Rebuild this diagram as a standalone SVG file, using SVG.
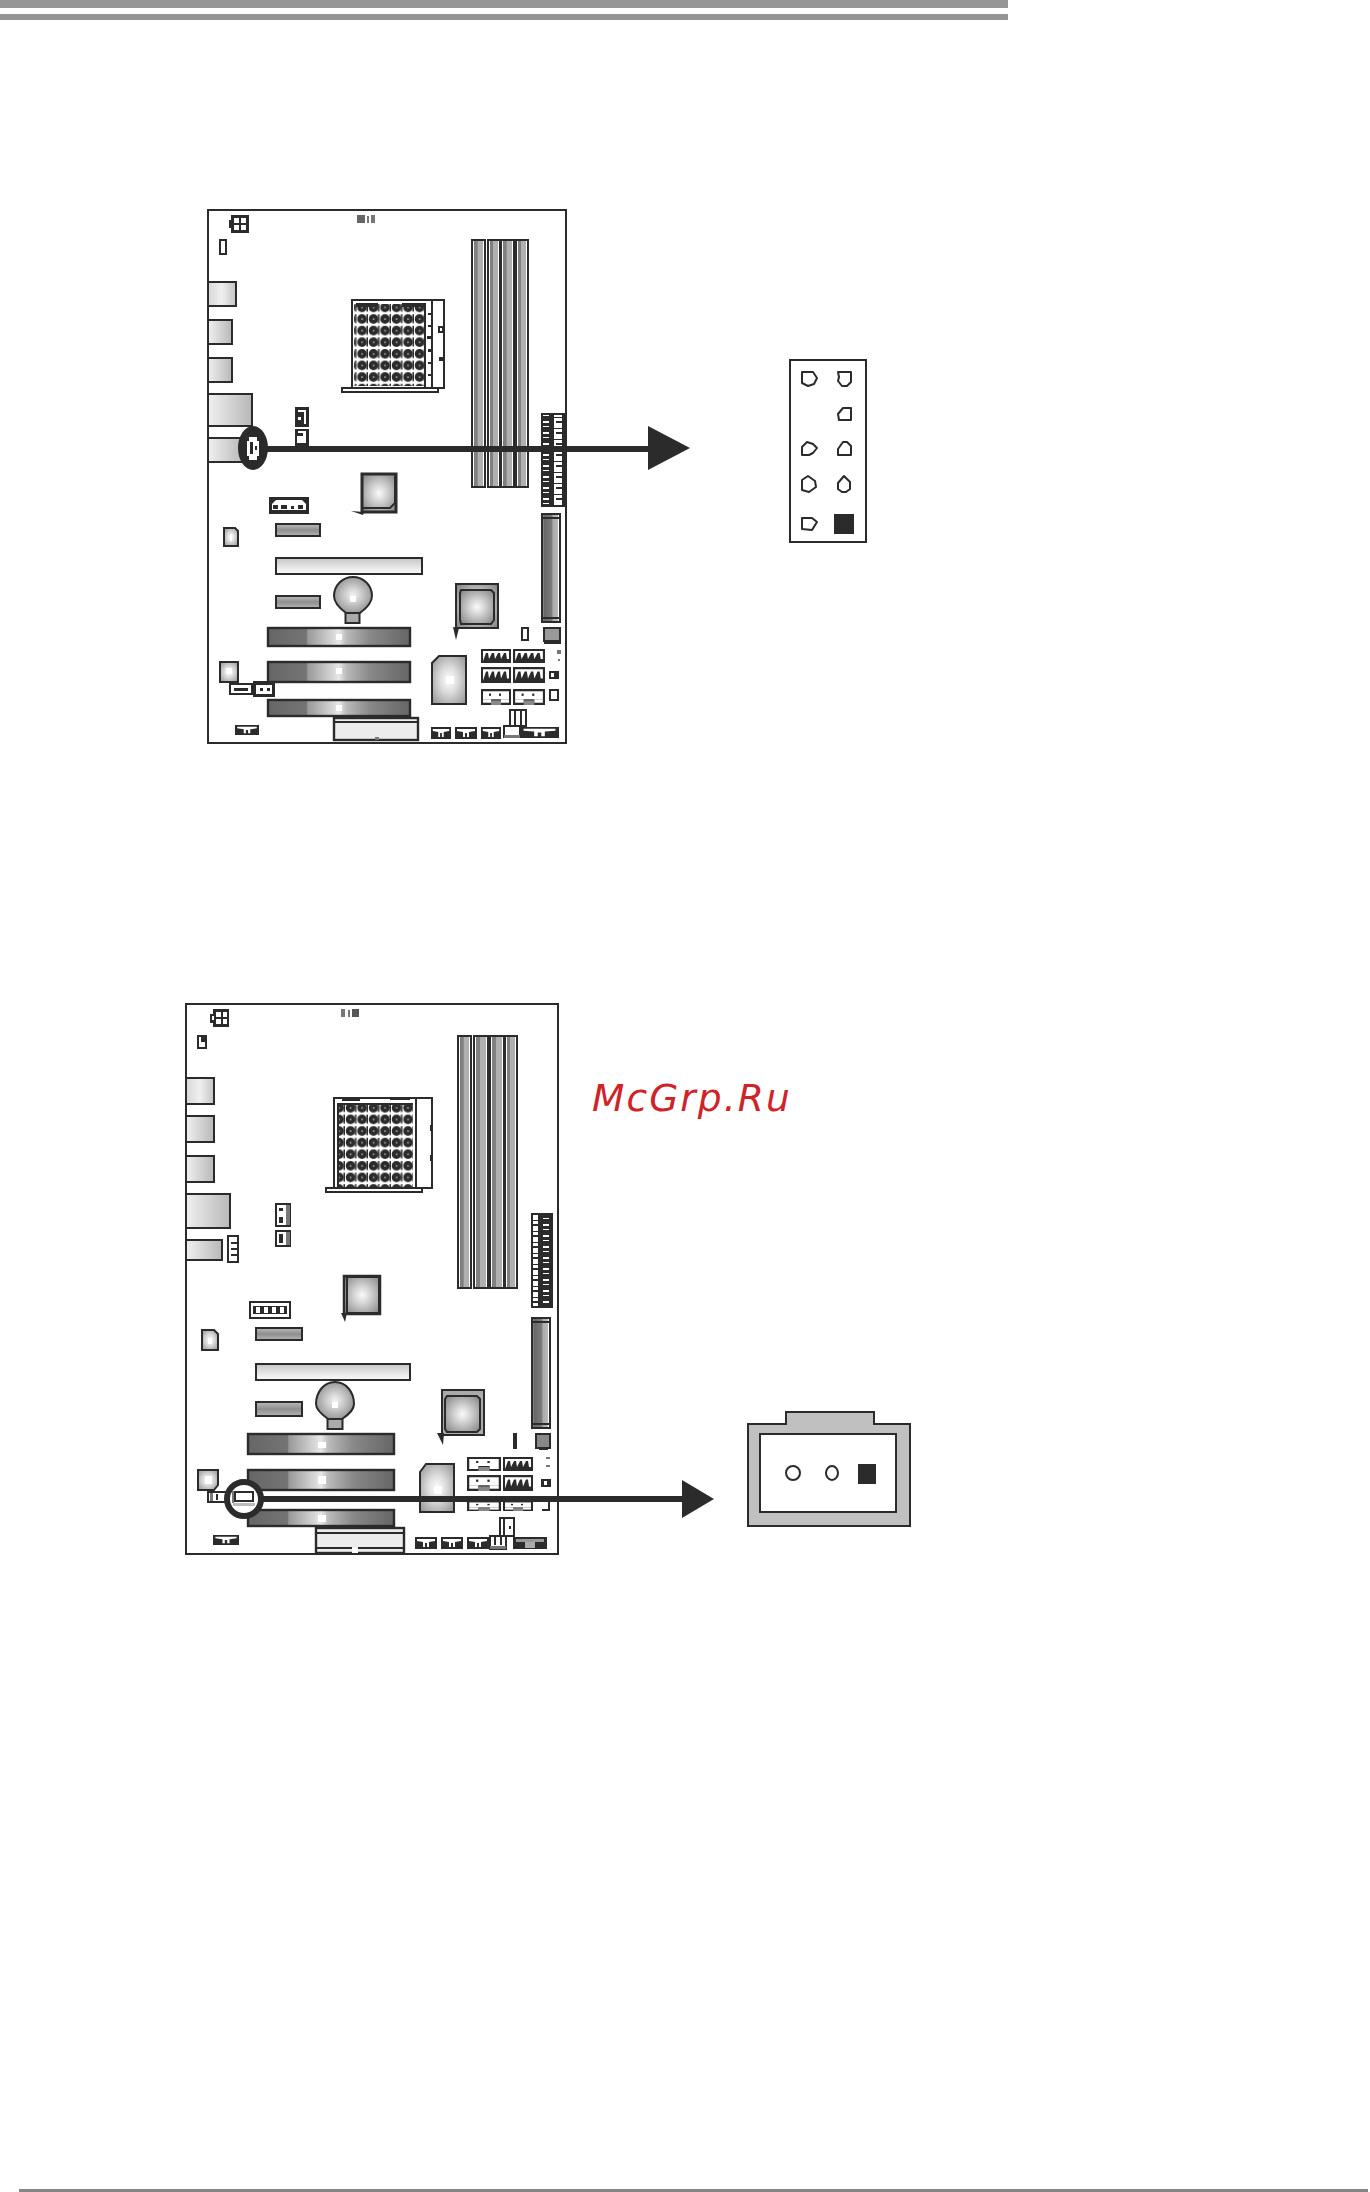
<svg xmlns="http://www.w3.org/2000/svg" width="1370" height="2192" viewBox="0 0 1370 2192">
<style>
.s{stroke:#2b2b2b;stroke-width:2;fill:#fff}
.k{stroke:#2b2b2b;stroke-width:2;fill:none}
.d{fill:#2b2b2b}
.w{fill:#fff}
.g{fill:#777}
.port{stroke:#2b2b2b;stroke-width:2;fill:url(#gPort)}
.port2{stroke:#2b2b2b;stroke-width:2;fill:url(#gPort2)}
.ram{stroke:#2b2b2b;stroke-width:2;fill:url(#gRam)}
.pcie{stroke:#2b2b2b;stroke-width:2.4;fill:url(#gPcie)}
.slot{stroke:#2b2b2b;stroke-width:2;fill:url(#gSlot)}
.lslot{stroke:#2b2b2b;stroke-width:2;fill:url(#gLong)}
.chip{stroke:#2b2b2b;stroke-width:2;fill:url(#gChip)}
.chip3{stroke:#2b2b2b;stroke-width:3;fill:url(#gChip)}
.small{stroke:#2b2b2b;stroke-width:2;fill:url(#gSmall)}
.pin{stroke:#2b2b2b;stroke-width:2;fill:#fff;stroke-linejoin:round}
.wire{stroke:#2b2b2b;stroke-width:6;fill:none}
.wm{font-family:"DejaVu Sans",sans-serif;font-style:oblique;font-size:37.5px;letter-spacing:2.1px;fill:#cf2329}
</style>
<defs>
<linearGradient id="gPort"><stop offset="0" stop-color="#d8d8d8"/><stop offset=".5" stop-color="#efefef"/><stop offset="1" stop-color="#c4c4c4"/></linearGradient>
<linearGradient id="gPort2"><stop offset="0" stop-color="#f0f0f0"/><stop offset="1" stop-color="#b8b8b8"/></linearGradient>
<linearGradient id="gRam"><stop offset="0" stop-color="#fff"/><stop offset=".14" stop-color="#fff"/><stop offset=".15" stop-color="#808080"/><stop offset=".42" stop-color="#808080"/><stop offset=".43" stop-color="#b0b0b0"/><stop offset=".85" stop-color="#b0b0b0"/><stop offset=".86" stop-color="#fff"/></linearGradient>
<linearGradient id="gPcie"><stop offset="0" stop-color="#666"/><stop offset=".27" stop-color="#747474"/><stop offset=".28" stop-color="#999"/><stop offset=".45" stop-color="#d4d4d4"/><stop offset=".5" stop-color="#e8e8e8"/><stop offset=".55" stop-color="#bbb"/><stop offset=".72" stop-color="#888"/><stop offset="1" stop-color="#666"/></linearGradient>
<linearGradient id="gSlot" x2="0" y2="1"><stop offset="0" stop-color="#bbb"/><stop offset=".5" stop-color="#8e8e8e"/><stop offset="1" stop-color="#b4b4b4"/></linearGradient>
<linearGradient id="gLong" x2="0" y2="1"><stop offset="0" stop-color="#c4c4c4"/><stop offset=".6" stop-color="#e8e8e8"/><stop offset="1" stop-color="#fafafa"/></linearGradient>
<linearGradient id="gVert"><stop offset="0" stop-color="#fff"/><stop offset=".1" stop-color="#666"/><stop offset=".55" stop-color="#7c7c7c"/><stop offset=".6" stop-color="#aaa"/><stop offset=".9" stop-color="#bbb"/><stop offset=".91" stop-color="#fff"/></linearGradient>
<radialGradient id="gChip" r=".65"><stop offset="0" stop-color="#fafafa"/><stop offset=".35" stop-color="#d4d4d4"/><stop offset="1" stop-color="#888"/></radialGradient>
<radialGradient id="gSmall" r=".65"><stop offset="0" stop-color="#fff"/><stop offset=".4" stop-color="#ddd"/><stop offset="1" stop-color="#999"/></radialGradient>
<radialGradient id="gBat" r=".6"><stop offset="0" stop-color="#f4f4f4"/><stop offset=".45" stop-color="#c4c4c4"/><stop offset="1" stop-color="#888"/></radialGradient>
<pattern id="pSock" width="11.5" height="11.6" patternUnits="userSpaceOnUse">
<rect width="11.500" height="11.6" fill="#fff"/><circle cx="5.5" cy="5.8" r="4.8" fill="#2b2b2b"/><rect x="5" y="5.3" width="1.2" height="1.2" fill="#fff"/><rect x="10" y="1" width="1.5" height="9" fill="#2b2b2b"/>
</pattern>
<pattern id="pHead" width="24" height="11" patternUnits="userSpaceOnUse">
<rect width="24" height="11" fill="#2b2b2b"/><rect x="2" y="0" width="8" height="10" fill="#fff"/><rect x="4" y="3" width="6" height="2" fill="#2b2b2b"/><rect x="15" y="3" width="6" height="2" fill="#fff"/><rect x="15" y="8" width="6" height="1" fill="#fff"/>
</pattern>
<symbol id="sataA" viewBox="0 0 30 14" preserveAspectRatio="none"><rect width="30" height="14" fill="#2b2b2b"/><path d="M2 12 L5 4 7 4 8 10 11 4 13 4 14 10 17 4 19 4 20 10 23 4 25 4 26 10 28 10 28 2 2 2Z" fill="#fff"/></symbol>
<symbol id="sataB" viewBox="0 0 30 14" preserveAspectRatio="none"><rect width="30" height="14" fill="#2b2b2b"/><rect x="2" y="2" width="26" height="7" fill="#fff"/><rect x="2" y="9" width="8" height="3" fill="#fff"/><rect x="20" y="9" width="8" height="3" fill="#fff"/><rect x="10" y="10" width="10" height="4" fill="#888"/><rect x="8" y="4" width="2" height="2" fill="#2b2b2b"/><rect x="18" y="4" width="2" height="2" fill="#2b2b2b"/></symbol>
<symbol id="fp" viewBox="0 0 22 12" preserveAspectRatio="none"><rect width="22" height="12" fill="#2b2b2b"/><path d="M2 2H20V4L14 5V10H12V6H10V10H8V5L2 4Z" fill="#fff"/></symbol>
</defs>
<rect width="1370" height="2192" fill="#fff"/>
<g id="page-rules">
<rect x="0" y="0" width="1008" height="8" fill="#969696"/>
<rect x="0" y="14" width="1008" height="6" fill="#969696"/>
<rect x="19" y="2189" width="1349" height="3" fill="#858585"/>
</g>
<g id="board-1">
<rect class="k" x="208" y="210" width="358" height="533"/>
<g id="b1-atx"><rect class="d" x="231" y="215" width="18" height="18"/><rect class="d" x="229" y="220" width="3" height="8"/><rect class="w" x="234" y="218" width="5" height="5"/><rect class="w" x="241" y="218" width="5" height="5"/><rect class="w" x="234" y="225" width="5" height="5"/><rect class="w" x="241" y="225" width="5" height="5"/></g>
<rect id="b1-j1" class="s" x="220" y="240" width="6" height="14"/>
<g id="b1-gray"><rect x="357" y="215" width="8" height="8" fill="#666"/><rect class="g" x="367" y="216" width="2" height="7"/><rect class="g" x="371" y="215" width="4" height="8"/></g>
<g id="b1-ports"><rect class="port" x="208" y="282" width="28" height="24"/><rect class="port2" x="208" y="320" width="24" height="24"/><rect class="port2" x="208" y="358" width="24" height="24"/><rect class="port2" x="208" y="394" width="44" height="32"/><rect class="port2" x="208" y="438" width="36" height="24"/></g>
<g id="b1-socket">
<rect class="s" x="352" y="300" width="92" height="88"/>
<rect x="354" y="304" width="71" height="82" fill="url(#pSock)"/>
<rect class="d" x="356" y="303" width="22" height="4"/><rect class="d" x="402" y="303" width="22" height="4"/>
<rect class="d" x="424" y="303" width="2" height="84"/><rect class="d" x="431" y="300" width="2" height="88"/>
<rect class="d" x="428" y="313" width="3" height="2"/><rect class="d" x="428" y="325" width="3" height="2"/><rect class="d" x="427" y="336" width="4" height="3"/><rect class="d" x="428" y="349" width="3" height="3"/><rect class="d" x="428" y="362" width="3" height="2"/><rect class="d" x="428" y="374" width="3" height="2"/>
<rect class="k" x="439" y="327" width="4" height="5"/><rect class="d" x="439" y="357" width="5" height="4"/>
<rect class="s" x="342" y="388" width="96" height="4"/>
</g>
<g id="b1-ram"><rect class="ram" x="472" y="240" width="13" height="247"/><rect class="ram" x="488" y="240" width="12" height="247"/><rect class="ram" x="501" y="240" width="13" height="247"/><rect class="ram" x="516" y="240" width="12" height="247"/></g>
<g id="b1-header"><rect x="541" y="413" width="24" height="94" fill="url(#pHead)"/><rect class="k" x="542" y="414" width="23" height="92"/></g>
<g id="b1-jumpers"><rect class="d" x="295" y="407" width="14" height="20"/><path class="w" d="M298 410H306V424H304V412H298Z"/><rect class="w" x="298" y="417" width="3" height="3"/><rect class="d" x="295" y="429" width="14" height="17"/><path class="w" d="M298 431H306V443H297V436H303V433H298Z"/></g>
<g id="b1-chip1"><path class="chip3" d="M362 474H396V512H362Z"/><path class="k" d="M363 508H390L395 503V476"/><path class="d" d="M351 511L364 512 363 515Z"/></g>
<g id="b1-conn"><rect class="d" x="269" y="497" width="40" height="17"/><path class="w" d="M272 504L276 500H302L306 504V510H272Z"/><rect class="d" x="273" y="505" width="5" height="4"/><rect class="d" x="281" y="505" width="6" height="4"/><rect class="d" x="291" y="506" width="3" height="3"/><rect class="d" x="298" y="505" width="5" height="4"/></g>
<rect id="b1-slot1" class="slot" x="276" y="524" width="44" height="12"/>
<g id="b1-small1"><path class="small" d="M224 528H235L238 531V546H224Z"/><rect class="w" x="230" y="534" width="2" height="7"/></g>
<rect id="b1-long" class="lslot" x="276" y="558" width="146" height="16"/>
<rect id="b1-slot2" class="slot" x="276" y="596" width="44" height="12"/>
<g id="b1-battery"><rect x="345.500" y="612" width="14" height="11" fill="#aaa" stroke="#2b2b2b" stroke-width="2"/><path d="M346 613C338 607 334 602 334 596A19 19 0 0 1 372 596C372 602 368 607 360 613H346Z" fill="url(#gBat)" stroke="#2b2b2b" stroke-width="2"/><rect class="w" x="350" y="596" width="6" height="6"/></g>
<g id="b1-pcie"><rect class="pcie" x="268" y="628" width="142" height="18"/><rect class="w" x="336" y="634" width="6" height="6"/><rect class="pcie" x="268" y="662" width="142" height="20"/><rect class="w" x="336" y="668" width="6" height="6"/><rect class="pcie" x="268" y="700" width="142" height="16"/><rect class="w" x="336" y="705" width="6" height="6"/></g>
<g id="b1-chip2"><rect class="chip" x="456" y="584" width="42" height="44"/><path d="M461 590H491L494 593V620L491 624H461L460 620V593Z" fill="url(#gChip)" stroke="#2b2b2b" stroke-width="2"/><path class="d" d="M453 627L459 628 456 640Z"/></g>
<g id="b1-vert"><rect x="542" y="514" width="18" height="108" fill="url(#gVert)" stroke="#2b2b2b" stroke-width="2"/><rect class="k" x="542" y="514" width="18" height="4"/><rect class="k" x="542" y="618" width="18" height="4"/></g>
<rect id="b1-j2" class="s" x="522" y="628" width="6" height="12"/>
<g id="b1-square"><rect x="544" y="628" width="16" height="13" fill="#999" stroke="#2b2b2b" stroke-width="2"/><rect class="d" x="544" y="640" width="17" height="4"/></g>
<rect class="g" x="557" y="650" width="4" height="4"/><rect class="g" x="558" y="659" width="2" height="2"/>
<g id="b1-chip3"><path class="small" d="M439 656H466V704H432V663Z"/><rect class="w" x="446" y="676" width="8" height="8"/></g>
<g id="b1-sata"><use href="#sataA" x="481" y="649" width="30" height="14"/><use href="#sataA" x="513" y="649" width="32" height="14"/><use href="#sataA" x="481" y="667" width="30" height="16"/><use href="#sataA" x="513" y="667" width="32" height="16"/><use href="#sataB" x="481" y="689" width="30" height="16"/><use href="#sataB" x="513" y="689" width="32" height="16"/></g>
<g id="b1-tiny"><rect class="d" x="549" y="671" width="10" height="8"/><rect class="w" x="551" y="673" width="3" height="4"/><rect class="s" x="550" y="690" width="8" height="10"/></g>
<g id="b1-bottom"><rect class="s" x="510" y="710" width="16" height="16"/><rect class="d" x="514" y="710" width="2" height="16"/><rect class="d" x="520" y="710" width="2" height="16"/><use href="#fp" x="431" y="727" width="20" height="12"/><use href="#fp" x="455" y="727" width="22" height="12"/><use href="#fp" x="481" y="727" width="20" height="12"/><rect class="s" x="504" y="726" width="16" height="11"/><rect class="g" x="504" y="735" width="16" height="3"/><use href="#fp" x="520" y="727" width="39" height="11"/></g>
<g id="b1-pci"><rect x="334" y="718" width="84" height="22" fill="#ececec" stroke="#2b2b2b" stroke-width="2.400"/><rect class="d" x="334" y="721" width="84" height="2"/><rect class="g" x="375" y="737" width="4" height="3"/></g>
<use id="b1-fp2" href="#fp" x="235" y="725" width="24" height="10"/>
<g id="b1-small2"><rect class="small" x="220" y="662" width="18" height="20"/><rect class="w" x="226" y="668" width="6" height="6"/></g>
<g id="b1-j3"><rect class="s" x="230" y="684" width="22" height="10"/><rect class="d" x="234" y="688" width="14" height="3"/><rect class="d" x="253" y="681" width="22" height="16"/><rect class="w" x="256" y="685" width="16" height="9"/><rect class="d" x="260" y="688" width="3" height="3"/><rect class="d" x="267" y="688" width="3" height="3"/></g>
<g id="b1-callout"><ellipse class="d" cx="253" cy="448" rx="15" ry="22"/><path class="w" d="M249 437H257V441H259V456H257V460H249V456H247V441H249Z"/><rect class="d" x="250" y="442" width="3" height="12"/><rect class="d" x="255" y="446" width="2" height="4"/></g>
</g>
<g id="header-9pin">
<rect class="k" x="790" y="360" width="76" height="182"/>
<path class="pin" d="M802 372H813L817 378 814 384 808 386 802 383Z"/>
<path class="pin" d="M838 372H851V382L847 386H842L838 381 839 377Z"/>
<path class="pin" d="M843 408H851V420H839L838 414Z"/>
<path class="pin" d="M802 455V447L807 442 813 444 817 448 813 453 809 455Z"/>
<path class="pin" d="M838 455V449L843 442H847L851 446V455Z"/>
<path class="pin" d="M802 480L808 476 815 481 816 487 809 492 802 490Z"/>
<path class="pin" d="M838 483L844 476 850 482V489L846 492H842L838 489Z"/>
<path class="pin" d="M802 518H812L817 522 812 530 802 529Z"/>
<rect class="d" x="834" y="514" width="20" height="20"/>
</g>
<g id="board-2">
<rect class="k" x="186" y="1004" width="372" height="550"/>
<g id="b2-atx"><rect class="d" x="213" y="1009" width="16" height="18"/><rect class="d" x="210" y="1014" width="5" height="9"/><rect class="w" x="212" y="1016" width="2" height="4"/><rect class="w" x="216" y="1012" width="5" height="5"/><rect class="w" x="223" y="1012" width="4" height="5"/><rect class="w" x="216" y="1019" width="5" height="5"/><rect class="w" x="223" y="1019" width="4" height="5"/></g>
<g id="b2-j1"><rect class="s" x="198" y="1036" width="8" height="12"/><rect class="d" x="201" y="1036" width="6" height="6"/></g>
<g id="b2-gray"><rect class="g" x="341" y="1009" width="4" height="8"/><rect class="g" x="348" y="1010" width="2" height="7"/><rect x="352" y="1009" width="7" height="8" fill="#555"/></g>
<g id="b2-ports"><rect class="port" x="186" y="1078" width="28" height="26"/><rect class="port2" x="186" y="1116" width="28" height="26"/><rect class="port2" x="186" y="1156" width="28" height="26"/><rect class="port2" x="186" y="1194" width="44" height="34"/><rect class="port2" x="186" y="1240" width="36" height="20"/></g>
<g id="b2-socket">
<rect class="s" x="334" y="1098" width="98" height="90"/>
<rect x="337" y="1105" width="76" height="82" fill="url(#pSock)"/>
<rect class="d" x="337" y="1103" width="76" height="2"/><rect class="d" x="342" y="1098" width="18" height="3"/><rect class="d" x="390" y="1098" width="20" height="2"/>
<rect class="d" x="337" y="1103" width="2" height="84"/><rect class="d" x="415" y="1098" width="2" height="90"/>
<rect class="d" x="430" y="1125" width="3" height="6"/><rect class="d" x="430" y="1155" width="3" height="6"/>
<rect class="s" x="326" y="1188" width="96" height="4"/>
</g>
<g id="b2-ram"><rect class="ram" x="458" y="1036" width="13" height="252"/><rect class="ram" x="474" y="1036" width="14" height="252"/><rect class="ram" x="490" y="1036" width="14" height="252"/><rect class="ram" x="505" y="1036" width="12" height="252"/></g>
<g id="b2-header"><rect x="531" y="1213" width="22" height="95" fill="url(#pHead)"/><rect class="k" x="532" y="1214" width="20" height="93"/></g>
<g id="b2-j2"><rect class="s" x="228" y="1236" width="10" height="26"/><rect class="d" x="231" y="1242" width="7" height="2"/><rect class="d" x="231" y="1248" width="7" height="2"/><rect class="d" x="231" y="1254" width="7" height="2"/></g>
<g id="b2-jumpers"><rect class="s" x="276" y="1204" width="14" height="22"/><rect class="g" x="286" y="1205" width="4" height="20"/><rect class="d" x="279" y="1208" width="4" height="3"/><rect class="d" x="279" y="1217" width="4" height="6"/><rect class="s" x="276" y="1231" width="14" height="15"/><rect class="g" x="286" y="1232" width="4" height="13"/><rect class="d" x="279" y="1234" width="4" height="9"/></g>
<g id="b2-chip1"><rect x="344" y="1276" width="36" height="38" fill="url(#gChip)" stroke="#2b2b2b" stroke-width="2.500"/><rect class="k" x="347" y="1277" width="32" height="36"/><path class="d" d="M341 1313L347 1313 345 1322Z"/></g>
<g id="b2-conn"><rect class="s" x="250" y="1302" width="40" height="16"/><path class="d" d="M253 1306H287V1314H253Z"/><path class="w" d="M256 1307H260V1313H256ZM264 1307H268V1313H264ZM272 1307H276V1313H272ZM280 1307H284V1313H280Z"/></g>
<rect id="b2-slot1" class="slot" x="256" y="1328" width="46" height="12"/>
<g id="b2-small1"><path class="small" d="M202 1330H214L218 1334V1350H202Z"/><rect class="w" x="208" y="1338" width="4" height="6"/></g>
<rect id="b2-long" class="lslot" x="256" y="1364" width="154" height="16"/>
<rect id="b2-slot2" class="slot" x="256" y="1402" width="46" height="14"/>
<g id="b2-battery"><rect x="327.500" y="1417" width="15" height="12" fill="#aaa" stroke="#2b2b2b" stroke-width="2"/><path d="M328 1419C321 1414 316 1408 316 1404C316 1392 324 1382 335 1382C346 1382 354 1392 354 1404C354 1408 350 1414 342 1419H328Z" fill="url(#gBat)" stroke="#2b2b2b" stroke-width="2"/><rect class="w" x="332" y="1402" width="6" height="6"/></g>
<g id="b2-pcie"><rect class="pcie" x="248" y="1434" width="146" height="20"/><rect class="w" x="318" y="1442" width="8" height="6"/><rect class="pcie" x="248" y="1470" width="146" height="20"/><rect class="w" x="318" y="1476" width="8" height="8"/><rect class="pcie" x="248" y="1510" width="146" height="16"/><rect class="w" x="318" y="1515" width="8" height="7"/></g>
<g id="b2-chip2"><rect x="442" y="1390" width="42" height="45" fill="#aaa" stroke="#2b2b2b" stroke-width="2"/><path d="M447 1396H477L480 1399V1429L477 1432H447L445 1429V1399Z" fill="url(#gChip)" stroke="#2b2b2b" stroke-width="2"/><path class="d" d="M437 1433L444 1433 443 1445Z"/></g>
<g id="b2-vert"><rect x="532" y="1318" width="18" height="110" fill="url(#gVert)" stroke="#2b2b2b" stroke-width="2"/><rect class="k" x="532" y="1318" width="18" height="4"/><rect class="k" x="532" y="1424" width="18" height="4"/></g>
<rect id="b2-j3" class="d" x="513" y="1433" width="4" height="16"/>
<g id="b2-square"><rect x="536" y="1434" width="14" height="14" fill="#888" stroke="#2b2b2b" stroke-width="2"/><rect class="d" x="539" y="1448" width="9" height="2"/></g>
<rect class="g" x="546" y="1457" width="4" height="2"/><rect class="g" x="546" y="1465" width="4" height="2"/>
<g id="b2-chip3"><path class="small" d="M426 1464H454V1512H420V1472Z"/><rect class="w" x="434" y="1486" width="8" height="8"/></g>
<g id="b2-sata"><use href="#sataB" x="467" y="1457" width="34" height="14"/><use href="#sataA" x="503" y="1457" width="30" height="14"/><use href="#sataB" x="467" y="1475" width="34" height="16"/><use href="#sataA" x="503" y="1475" width="30" height="16"/><use href="#sataB" x="467" y="1501" width="34" height="10"/><use href="#sataB" x="503" y="1501" width="30" height="10"/></g>
<g id="b2-tiny"><rect class="d" x="541" y="1479" width="10" height="8"/><rect class="w" x="544" y="1481" width="3" height="4"/><path class="k" d="M549 1501V1510H542"/></g>
<g id="b2-bottom"><rect class="s" x="500" y="1518" width="14" height="18"/><rect class="d" x="503" y="1518" width="2" height="18"/><rect class="d" x="509" y="1526" width="2" height="3"/><use href="#fp" x="415" y="1537" width="22" height="12"/><use href="#fp" x="441" y="1537" width="22" height="12"/><use href="#fp" x="467" y="1537" width="22" height="12"/><rect class="s" x="490" y="1536" width="16" height="13"/><rect class="g" x="490" y="1546" width="16" height="3"/><rect class="d" x="494" y="1536" width="2" height="9"/><rect class="d" x="500" y="1536" width="2" height="9"/><g id="b2-audio"><rect class="d" x="513" y="1537" width="34" height="12"/><rect x="516" y="1539" width="28" height="3" fill="#999"/><rect x="525" y="1542" width="10" height="6" fill="#aaa"/></g></g>
<g id="b2-pci"><rect x="316" y="1528" width="88" height="25" fill="#ececec" stroke="#2b2b2b" stroke-width="2.400"/><rect class="d" x="316" y="1532" width="88" height="2"/><rect class="d" x="316" y="1547" width="36" height="2"/><rect class="d" x="358" y="1547" width="46" height="2"/><rect class="w" x="352" y="1548" width="6" height="5"/></g>
<use id="b2-fp2" href="#fp" x="213" y="1535" width="26" height="10"/>
<g id="b2-small2"><path class="small" d="M198 1470H218V1485L214 1490H198Z"/><rect class="w" x="205" y="1476" width="7" height="8"/></g>
<g id="b2-j4"><rect class="s" x="208" y="1492" width="24" height="10"/><rect class="g" x="210" y="1493" width="3" height="8"/><rect class="d" x="216" y="1494" width="2" height="6"/></g>
<g id="b2-callout"><circle cx="244" cy="1499" r="17" fill="#fff" stroke="#2b2b2b" stroke-width="6"/><rect class="s" x="235" y="1492" width="18" height="9"/><rect class="g" x="232" y="1491" width="2" height="12"/><rect x="233" y="1503" width="22" height="3" fill="#bbb"/></g>
</g>
<g id="header-3pin">
<path d="M748 1424H786V1412H874V1424H910V1526H748Z" fill="#c0c0c0" stroke="#2b2b2b" stroke-width="2"/>
<rect x="760" y="1434" width="136" height="78" fill="#fff" stroke="#2b2b2b" stroke-width="2"/>
<ellipse class="pin" cx="793" cy="1473" rx="7" ry="7"/>
<ellipse class="pin" cx="832" cy="1473" rx="6" ry="7"/>
<rect class="d" x="858" y="1464" width="18" height="20"/>
</g>
<g id="connectors">
<path class="wire" d="M262 449H650"/>
<polygon class="d" points="648,426 690,448 648,470"/>
<path class="wire" d="M262 1499H684"/>
<polygon class="d" points="682,1480 714,1499 682,1518"/>
</g>
<text class="wm" x="592" y="1111">McGrp.Ru</text>
</svg>
